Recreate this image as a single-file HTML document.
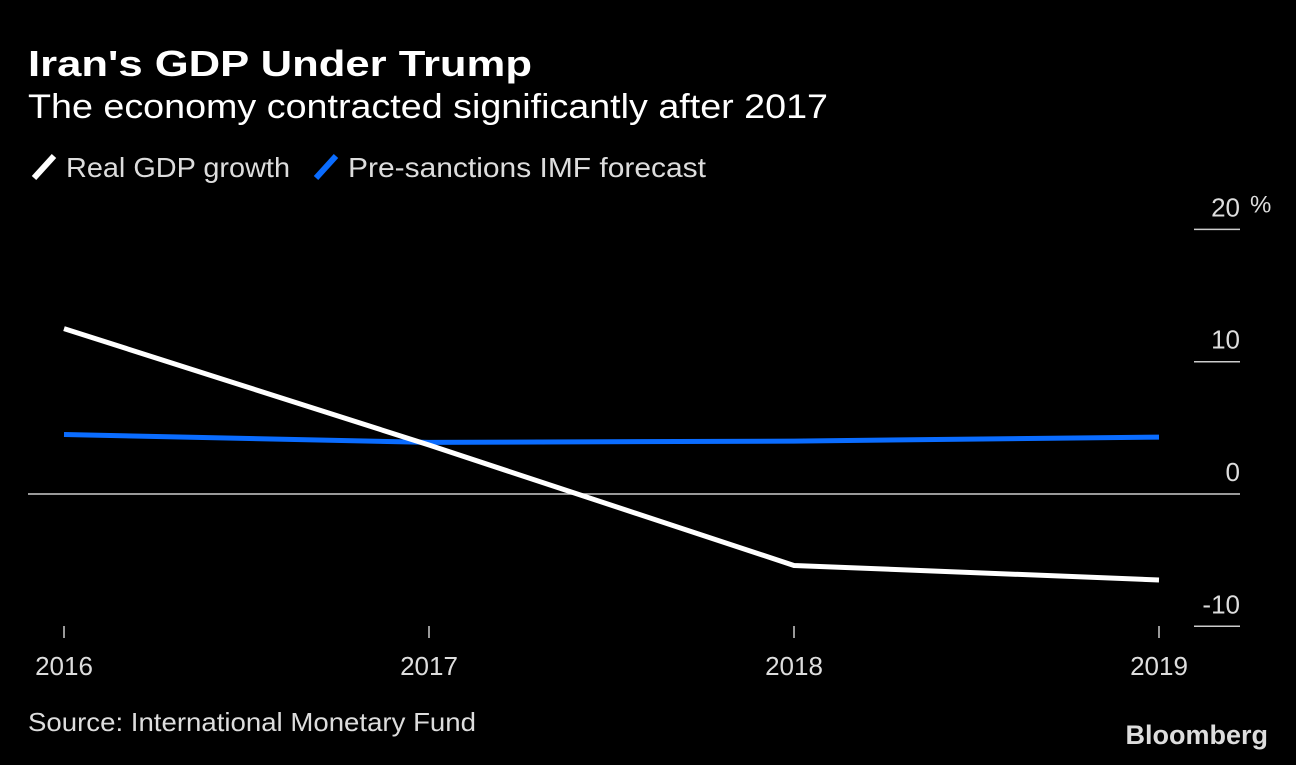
<!DOCTYPE html>
<html><head><meta charset="utf-8"><style>
html,body{margin:0;padding:0;background:#000;}
body{width:1296px;height:760px;overflow:hidden;font-family:"Liberation Sans",sans-serif;color:#fff;}
svg text{font-family:"Liberation Sans",sans-serif;}
</style></head><body>
<svg id="chart" width="1296" height="760">
<rect width="1296" height="760" fill="#000"/>
<text x="28" y="76" font-size="36" font-weight="bold" fill="#fff" textLength="504" lengthAdjust="spacingAndGlyphs">Iran's GDP Under Trump</text>
<text x="28" y="118" font-size="34" fill="#fff" textLength="800" lengthAdjust="spacingAndGlyphs">The economy contracted significantly after 2017</text>
<g>
<line x1="34" y1="178" x2="54" y2="156" stroke="#fff" stroke-width="6"/>
<text x="66" y="177" font-size="28" fill="#ddd" textLength="224" lengthAdjust="spacingAndGlyphs">Real GDP growth</text>
</g>
<g>
<line x1="316" y1="178" x2="336" y2="156" stroke="#0a6cff" stroke-width="6"/>
<text x="348" y="177" font-size="28" fill="#ddd" textLength="358" lengthAdjust="spacingAndGlyphs">Pre-sanctions IMF forecast</text>
</g>
<g id="yaxis"></g>
<g id="xaxis"></g>
<g id="series"></g>
<text x="28" y="731" font-size="26" fill="#ddd" textLength="448" lengthAdjust="spacingAndGlyphs">Source: International Monetary Fund</text>
<text x="1268" y="744" font-size="27" font-weight="bold" fill="#ddd" text-anchor="end">Bloomberg</text>
</svg>
<script>
const years = ["2016","2017","2018","2019"];
const realGdp = [12.5, 3.7, -5.4, -6.5];
const imfForecast = [4.5, 3.9, 4.0, 4.3];
const yTicks = [20, 10, 0, -10];

const NS="http://www.w3.org/2000/svg";
function xPos(i){return 64 + i*365;}
function yPos(v){return 494 - v*13.23;}
function mk(tag,attrs,parent){const e=document.createElementNS(NS,tag);for(const k in attrs)e.setAttribute(k,attrs[k]);parent.appendChild(e);return e;}
const ya=document.getElementById('yaxis'), xa=document.getElementById('xaxis'), sg=document.getElementById('series');
yTicks.forEach(t=>{
  const y=yPos(t);
  const l=mk('line',{x1:1194,x2:1240,y1:y,y2:y,stroke:'#ccc','stroke-width':1.5},ya);
  
  
  const tx=mk('text',{x:1240,y:y-13,'font-size':26,fill:'#ddd','text-anchor':'end'},ya);
  tx.textContent=(t<0?'-':'')+Math.abs(t);
  
  
  if(t===0){const z=mk('line',{x1:28,x2:1194,y1:y,y2:y,stroke:'#ccc','stroke-width':1.5},ya);
    
    }
});
const pct=mk('text',{x:1250,y:yPos(20)-17,'font-size':24,fill:'#ddd'},ya);
pct.textContent='%';


years.forEach((yr,i)=>{
  const x=xPos(i);
  const l=mk('line',{x1:x,x2:x,y1:626,y2:638,stroke:'#ccc','stroke-width':1.5},xa);
  
  
  const t=mk('text',{x:x,y:675,'font-size':26,fill:'#ddd','text-anchor':'middle'},xa);
  t.textContent=yr;
  
  
});
function line(vals,color,name){
  const p=mk('polyline',{points:vals.map((v,i)=>xPos(i)+','+yPos(v)).join(' '),fill:'none',stroke:color,'stroke-width':5,'stroke-linejoin':'round'},sg);
  
  
}
line(imfForecast,'#0a6cff','imf-forecast-line');
line(realGdp,'#fff','real-gdp-line');
</script>
</body></html>
